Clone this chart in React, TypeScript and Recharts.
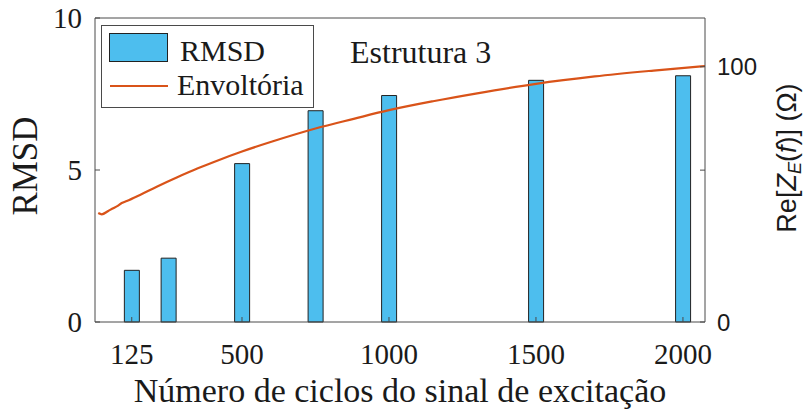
import { Bar, ComposedChart, Line, XAxis, YAxis } from "recharts";

// RMSD per cycle count (left axis)
const cycles = [125, 250, 500, 750, 1000, 1500, 2000];
const rmsd = [1.7, 2.1, 5.21, 6.95, 7.45, 7.95, 8.1];

// envelope of Re[Z_E(f)] in ohms (right axis)
const envCycles = [
  11, 23, 45, 62, 74, 91, 108, 153, 210, 278, 350, 420, 500, 600, 750, 880,
  1000, 1150, 1300, 1500, 1700, 1900, 2075,
];
const envValues = [
  42.7, 42.2, 43.5, 44.6, 45.3, 46.6, 47.4, 49.8, 53.0, 56.6, 60.2, 63.4,
  66.8, 70.6, 75.8, 79.6, 83.0, 86.5, 89.6, 93.3, 96.2, 98.5, 100.3,
];

const xTicks = [125, 500, 1000, 1500, 2000];
const leftTicks = [0, 5, 10];
const rightTicks = [0, 59.5, 100];

const barRows = cycles.map((c, i) => ({ c, rmsd: rmsd[i] }));
const envRows = envCycles.map((c, i) => ({ c, env: envValues[i] }));

const serif = "Liberation Serif";
const sans = "Liberation Sans";
const frame = "#4a4a4a";
const ink = "#1a1a1a";

export default function App() {
  return (
    <div style={{ position: "absolute", left: 0, top: 0, background: "#fff" }}>
      <ComposedChart
        width={809}
        height={412}
        data={barRows}
        margin={{ top: 17, right: 0, bottom: 0, left: 0 }}
      >
        <XAxis
          dataKey="c"
          type="number"
          domain={[0, 2075]}
          ticks={xTicks}
          height={90}
          stroke={frame}
          tickSize={-5}
          tickMargin={26}
          tick={{ fill: ink, fontFamily: serif, fontSize: 29 }}
        />
        {/* mirrored top edge, also carries the envelope line */}
        <XAxis
          xAxisId="top"
          dataKey="c"
          type="number"
          orientation="top"
          domain={[0, 2075]}
          ticks={xTicks}
          height={1}
          stroke={frame}
          tickSize={-5}
          tick={false}
        />
        <YAxis
          yAxisId="left"
          domain={[0, 10]}
          ticks={leftTicks}
          width={95}
          stroke={frame}
          tickSize={-5}
          tickMargin={18}
          tick={{ fill: ink, fontFamily: serif, fontSize: 29 }}
        />
        <YAxis
          yAxisId="right"
          orientation="right"
          domain={[0, 119.1]}
          ticks={rightTicks}
          width={104}
          stroke={frame}
          tickSize={-5}
          tickMargin={17}
          tickFormatter={(v: number) => (v === 0 || v === 100 ? String(v) : "")}
          tick={{ fill: ink, fontFamily: sans, fontSize: 24 }}
        />
        <Bar
          yAxisId="left"
          dataKey="rmsd"
          barSize={15}
          fill="#4DBEEE"
          stroke="#222"
          strokeWidth={1}
          isAnimationActive={false}
        />
        <Line
          xAxisId="top"
          yAxisId="right"
          data={envRows}
          dataKey="env"
          type="monotone"
          stroke="#D95319"
          strokeWidth={2.2}
          dot={false}
          isAnimationActive={false}
        />

        {/* legend box */}
        <rect x={101.5} y={25.5} width={212} height={82} fill="#fff" stroke={frame} strokeWidth={1} />
        <rect x={109.5} y={33.5} width={58} height={28} fill="#4DBEEE" stroke="#222" strokeWidth={1} />
        <text x={180} y={61} fontFamily={serif} fontSize={30} fill={ink}>
          RMSD
        </text>
        <line x1={110} y1={86} x2={168} y2={86} stroke="#D95319" strokeWidth={2} />
        <text x={177} y={95} fontFamily={serif} fontSize={30} fill={ink}>
          Envoltória
        </text>

        <text x={350} y={63} fontFamily={serif} fontSize={32} fill={ink}>
          Estrutura 3
        </text>

        {/* axis titles */}
        <text
          x={400}
          y={402}
          textAnchor="middle"
          fontFamily={serif}
          fontSize={34}
          fill={ink}
        >
          Número de ciclos do sinal de excitação
        </text>
        <text
          x={37}
          y={166}
          textAnchor="middle"
          transform="rotate(-90, 37, 166)"
          fontFamily={serif}
          fontSize={35}
          fill={ink}
        >
          RMSD
        </text>
        <text
          x={796}
          y={158}
          textAnchor="middle"
          transform="rotate(-90, 796, 158)"
          fontFamily={sans}
          fontSize={27}
          fill={ink}
        >
          Re[<tspan fontStyle="italic">Z</tspan>
          <tspan fontStyle="italic" fontSize={18} dy={5}>E</tspan>
          <tspan dy={-5}>(</tspan>
          <tspan fontStyle="italic">f</tspan>)] (Ω)
        </text>
      </ComposedChart>
    </div>
  );
}
